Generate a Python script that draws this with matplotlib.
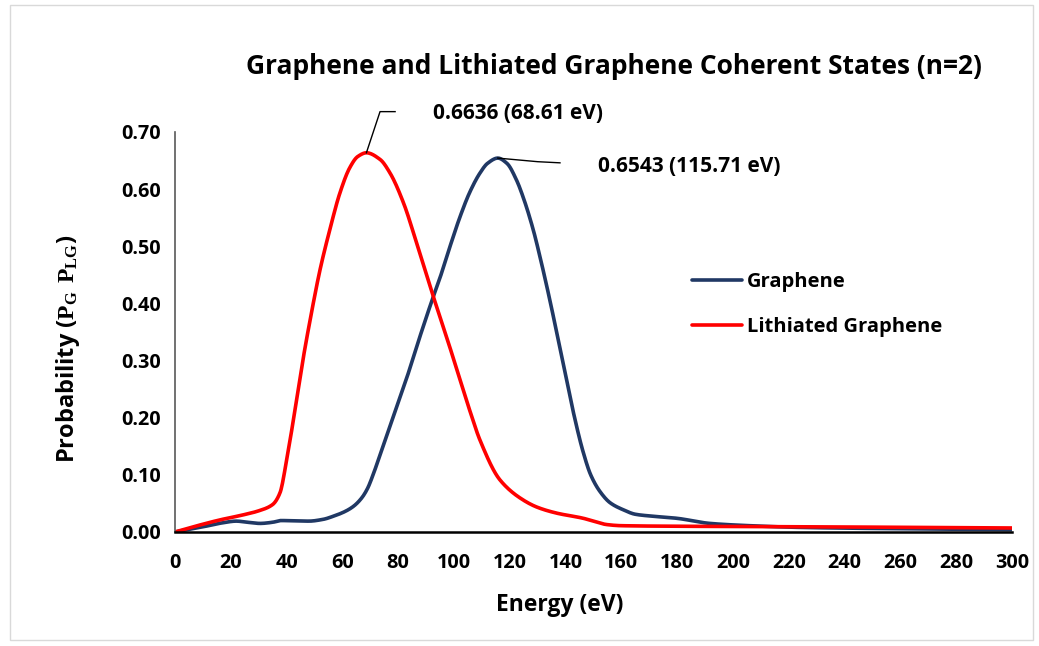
import numpy as np
import matplotlib
matplotlib.use('Agg')
import matplotlib.pyplot as plt
from matplotlib.patches import Rectangle

plt.rcParams['font.family'] = ['Open Sans', 'DejaVu Sans']
plt.rcParams['font.weight'] = 'bold'
plt.rcParams['mathtext.fontset'] = 'custom'
plt.rcParams['mathtext.rm'] = 'Liberation Serif:bold'

# ---------------- data ----------------
graphene_x = [0, 10, 17, 22, 26, 30.5, 35, 38, 48, 53, 57, 61, 64, 67, 69, 71, 73.5,
              78.3, 83.1, 88, 92.6, 95, 98.6, 102.2, 105.7, 109.3, 112, 115.71,
              119, 122.4, 125, 128.4, 131, 134.4, 137, 140.3, 143, 146.3, 149, 152.3, 156,
              160.6, 165, 170.2, 179.8, 191.7, 206, 224, 254, 300]
graphene_y = [0, 0.009, 0.016, 0.019, 0.017, 0.015, 0.017, 0.020, 0.019, 0.022,
              0.028, 0.036, 0.045, 0.060, 0.076, 0.100, 0.135, 0.202, 0.270, 0.345,
              0.412, 0.445, 0.500, 0.552, 0.595, 0.628, 0.645, 0.6543, 0.645,
              0.616, 0.583, 0.529, 0.478, 0.405, 0.345, 0.268, 0.205, 0.140, 0.100, 0.071,
              0.051, 0.039, 0.031, 0.028, 0.024, 0.015, 0.011, 0.008, 0.006, 0.004]

lithiated_x = [0, 6.5, 16, 24.5, 30, 35, 37.6, 40, 43.6, 46, 48.4, 52, 55.5, 59.1,
               62.7, 65.5, 68.61, 73.5, 77.1, 81.9, 86.6, 92.6, 98.6, 102.2, 105.7,
               109.3, 116.5, 124.8, 130, 136.8, 146.3, 150, 154.7, 160, 182, 230, 300]
lithiated_y = [0, 0.009, 0.021, 0.030, 0.037, 0.048, 0.068, 0.125, 0.232, 0.305,
               0.370, 0.459, 0.529, 0.593, 0.638, 0.657, 0.6636, 0.652, 0.628,
               0.576, 0.506, 0.412, 0.322, 0.266, 0.212, 0.161, 0.091, 0.056,
               0.043, 0.033, 0.024, 0.019, 0.013, 0.011, 0.010, 0.009, 0.007]

x_ticks = list(range(0, 301, 20))
y_ticks = [0.0, 0.1, 0.2, 0.3, 0.4, 0.5, 0.6, 0.7]

peak_g = (115.71, 0.6543)
peak_lg = (68.61, 0.6636)


def smooth(xs, ys, n=400):
    # monotone cubic (pchip) through the read points, no overshoot
    x = np.asarray(xs, float)
    y = np.asarray(ys, float)
    h = np.diff(x)
    d = np.diff(y) / h
    m = np.zeros_like(x)
    for k in range(1, len(x) - 1):
        if d[k - 1] * d[k] > 0:
            w1 = 2 * h[k] + h[k - 1]
            w2 = h[k] + 2 * h[k - 1]
            m[k] = (w1 + w2) / (w1 / d[k - 1] + w2 / d[k])
    m[0] = d[0]
    m[-1] = d[-1]
    xf = np.linspace(x[0], x[-1], n * 3)
    idx = np.clip(np.searchsorted(x, xf) - 1, 0, len(x) - 2)
    t = (xf - x[idx]) / h[idx]
    h00 = 2 * t**3 - 3 * t**2 + 1
    h10 = t**3 - 2 * t**2 + t
    h01 = -2 * t**3 + 3 * t**2
    h11 = t**3 - t**2
    yf = h00 * y[idx] + h10 * h[idx] * m[idx] + h01 * y[idx + 1] + h11 * h[idx] * m[idx + 1]
    return xf, yf


fig = plt.figure(figsize=(10.39, 6.46), dpi=100)
ax = fig.add_axes([0.1684, 0.1765, 0.8056, 0.6192])

# light frame round the whole chart
fig.patches.append(Rectangle((0.0096, 0.009), 0.985, 0.983, transform=fig.transFigure,
                             fill=False, edgecolor='#d9d9d9', linewidth=1))

gx, gy = smooth(graphene_x, graphene_y)
lx, ly = smooth(lithiated_x, lithiated_y)
ax.plot(gx, gy, color='#203864', linewidth=2.6, label='Graphene', solid_capstyle='round')
ax.plot(lx, ly, color='#ff0000', linewidth=2.6, label='Lithiated Graphene', solid_capstyle='round')

ax.set_xlim(0, 300)
ax.set_ylim(0, 0.70)
ax.set_xticks(x_ticks)
ax.set_yticks(y_ticks)
ax.set_yticklabels([f'{v:.2f}' for v in y_ticks])
ax.tick_params(length=0, labelsize=14.3)
ax.tick_params(axis='x', pad=15)
ax.tick_params(axis='y', pad=10)
for lab in ax.get_xticklabels() + ax.get_yticklabels():
    lab.set_fontweight('bold')

for s in ['top', 'right']:
    ax.spines[s].set_visible(False)
ax.spines['left'].set_color('#595959')
ax.spines['left'].set_linewidth(1.2)
ax.spines['bottom'].set_color('black')
ax.spines['bottom'].set_linewidth(1.8)

ax.set_xlabel('Energy (eV)', fontsize=16.5, fontweight='bold')
ax.xaxis.set_label_coords(0.46, -0.1825)
ax.set_ylabel(r'Probability ($\mathrm{P_{G}\ P_{LG}}$)', fontsize=17,
              fontweight='bold')
ax.yaxis.set_label_coords(-0.128, 0.4575)
ax.xaxis.label.set_va('center')
ax.yaxis.label.set_va('center')

fig.text(0.591, 0.897, 'Graphene and Lithiated Graphene Coherent States (n=2)',
         ha='center', va='center', fontsize=19, fontweight='bold')

# peak labels with leader lines
ax.plot([peak_lg[0], 73.5, 78.9], [peak_lg[1], 0.7356, 0.7356], color='black',
        linewidth=1, clip_on=False)
ax.text(92.5, 0.732, f'{peak_lg[1]:.4f} ({peak_lg[0]:.2f} eV)', fontsize=15,
        fontweight='bold', va='center', ha='left')
ax.plot([peak_g[0], 130, 138], [peak_g[1], 0.648, 0.646], color='black', linewidth=1)
ax.text(151.6, 0.639, f'{peak_g[1]:.4f} ({peak_g[0]:.2f} eV)', fontsize=15,
        fontweight='bold', va='center', ha='left')

leg = ax.legend(loc='upper left', bbox_to_anchor=(0.596, 0.695), frameon=False,
                handlelength=2.5, handletextpad=0.25, labelspacing=1.25,
                prop={'weight': 'bold', 'size': 14.5})

fig.savefig('out.png', dpi=100)
